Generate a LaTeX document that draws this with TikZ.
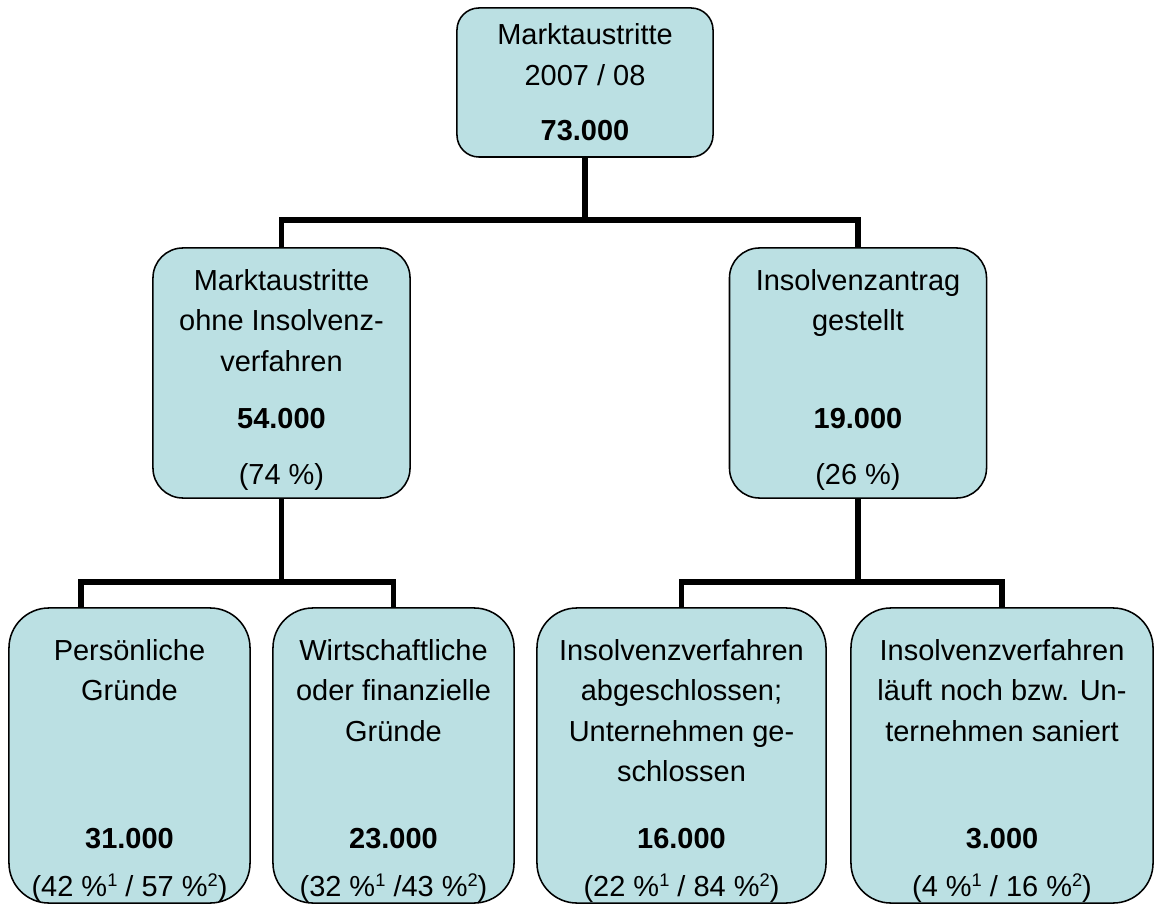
\documentclass[tikz,border=0pt]{standalone}
\usepackage{fontspec}
\setmainfont{Liberation Sans}
\usepackage{tikz}
\usetikzlibrary{positioning}
\usetikzlibrary{calc}

\definecolor{boxfill}{RGB}{187,224,227}

\newcommand{\supnr}[1]{\raisebox{6.8pt}{\fontsize{13}{13}\selectfont #1}}

\tikzset{
    box/.style={draw=black, line width=1.1pt, fill=boxfill, inner sep=0pt},
    conn/.style={draw=black, line width=3.6pt},
    head/.style={align=center, inner sep=0pt, font=\fontsize{20.6}{28.8}\selectfont},
    val/.style={head, anchor=north},
}

\begin{document}
\begin{tikzpicture}[x=0.025cm, y=-0.025cm]
            \useasboundingbox (0,0) rectangle (1156,905);

            %boxes
            \node[box, rounded corners=0.55cm, minimum width=6.4cm, minimum height=3.725cm] (total) at (585,82.5) {};
            \node[box, rounded corners=0.75cm, minimum width=6.425cm, minimum height=6.25cm] (ohne) at (281.5,373) {};
            \node[box, rounded corners=0.75cm, minimum width=6.425cm, minimum height=6.25cm] (antrag) at (858,373) {};
            \node[box, rounded corners=1cm, minimum width=6.025cm, minimum height=7.375cm] (pers) at (129.5,755.5) {};
            \node[box, rounded corners=1cm, minimum width=6.025cm, minimum height=7.375cm] (wirt) at (393.5,755.5) {};
            \node[box, rounded corners=1cm, minimum width=7.225cm, minimum height=7.375cm] (abg) at (681.5,755.5) {};
            \node[box, rounded corners=1cm, minimum width=7.55cm, minimum height=7.375cm] (lauf) at (1002,755.5) {};

            %texts
            \node[head, below=0.41cm of total.north] (total-head) {Marktaustritte\\2007 / 08};
            \node[val] (total-val) at ([yshift=0.935cm]total.south) {\textbf{73.000}};

            \node[head, below=0.54cm of ohne.north] (ohne-head) {Marktaustritte\\ohne Insolvenz-\\verfahren};
            \node[val] (ohne-val) at ([yshift=2.26cm]ohne.south) {\textbf{54.000}\\[0.375cm](74 \%)};
            \node[head, below=0.54cm of antrag.north] (antrag-head) {Insolvenzantrag\\gestellt};
            \node[val] (antrag-val) at ([yshift=2.26cm]antrag.south) {\textbf{19.000}\\[0.375cm](26 \%)};

            \node[head, below=0.79cm of pers.north] (pers-head) {Persönliche\\Gründe};
            \node[val] (pers-val) at ([yshift=1.885cm]pers.south) {\textbf{31.000}\\[0.175cm](42 \%\supnr{1} / 57 \%\supnr{2})};
            \node[head, below=0.79cm of wirt.north] (wirt-head) {Wirtschaftliche\\oder finanzielle\\Gründe};
            \node[val] (wirt-val) at ([yshift=1.885cm]wirt.south) {\textbf{23.000}\\[0.175cm](32 \%\supnr{1} /43 \%\supnr{2})};
            \node[head, below=0.79cm of abg.north] (abg-head) {Insolvenzverfahren\\abgeschlossen;\\Unternehmen ge-\\schlossen};
            \node[val] (abg-val) at ([yshift=1.885cm]abg.south) {\textbf{16.000}\\[0.175cm](22 \%\supnr{1} / 84 \%\supnr{2})};
            \node[head, below=0.79cm of lauf.north] (lauf-head) {Insolvenzverfahren\\läuft noch bzw. Un-\\ternehmen saniert};
            \node[val] (lauf-val) at ([yshift=1.885cm]lauf.south) {\textbf{3.000}\\[0.175cm](4 \%\supnr{1} / 16 \%\supnr{2})};

            %connectors
            \coordinate (j0) at (585,220);
            \coordinate (j1) at (281.5,582);
            \coordinate (j2) at (858,582);
            \draw[conn] (total.south) -- (j0);
            \draw[conn] (ohne.north) |- (j0) -| (antrag.north);
            \draw[conn] (ohne.south) -- (j1);
            \draw[conn] ($(pers.north west)!0.3!(pers.north east)$) |- (j1) -| (wirt.north);
            \draw[conn] (antrag.south) -- (j2);
            \draw[conn] (abg.north) |- (j2) -| (lauf.north);
\end{tikzpicture}
\end{document}
